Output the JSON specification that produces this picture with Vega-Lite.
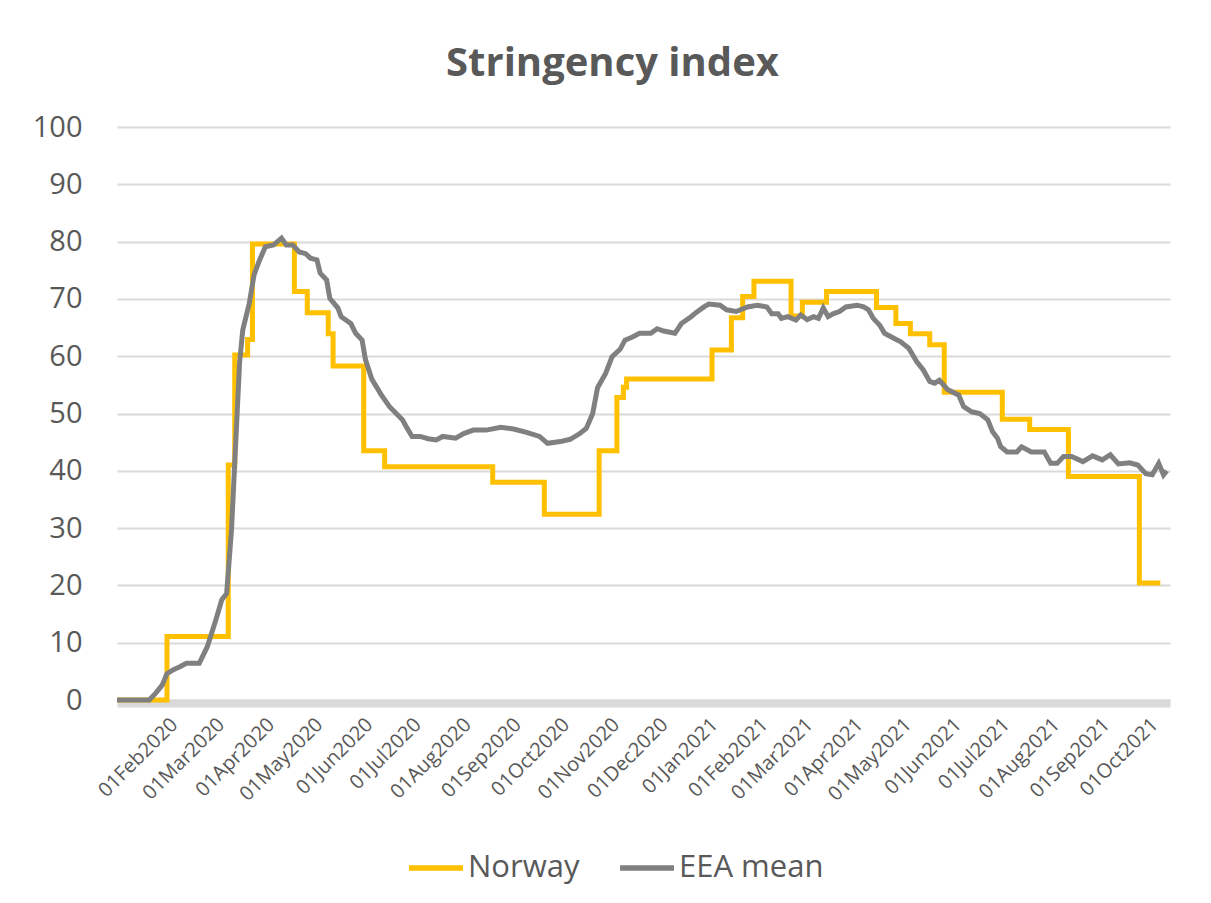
{
  "$schema": "https://vega.github.io/schema/vega-lite/v6.json",
  "width": 1053,
  "height": 573,
  "autosize": {"type": "none"},
  "padding": {"left": 117, "top": 127, "right": 41, "bottom": 203},
  "background": "white",
  "title": {
    "text": "Stringency index",
    "font": "Open Sans",
    "fontSize": 40,
    "fontWeight": "bold",
    "color": "#595959",
    "anchor": "middle",
    "dx": -31,
    "offset": 29
  },
  "datasets": {
    "norway": [
      {"date": "2020-01-01", "value": 0, "series": "Norway"},
      {"date": "2020-02-01", "value": 11.1, "series": "Norway"},
      {"date": "2020-03-10", "value": 41, "series": "Norway"},
      {"date": "2020-03-14", "value": 60.2, "series": "Norway"},
      {"date": "2020-03-22", "value": 62.9, "series": "Norway"},
      {"date": "2020-03-25", "value": 79.6, "series": "Norway"},
      {"date": "2020-04-20", "value": 71.3, "series": "Norway"},
      {"date": "2020-04-28", "value": 67.6, "series": "Norway"},
      {"date": "2020-05-11", "value": 63.9, "series": "Norway"},
      {"date": "2020-05-14", "value": 58.3, "series": "Norway"},
      {"date": "2020-06-02", "value": 43.5, "series": "Norway"},
      {"date": "2020-06-15", "value": 40.7, "series": "Norway"},
      {"date": "2020-08-21", "value": 38, "series": "Norway"},
      {"date": "2020-09-22", "value": 32.4, "series": "Norway"},
      {"date": "2020-10-26", "value": 43.5, "series": "Norway"},
      {"date": "2020-11-06", "value": 52.8, "series": "Norway"},
      {"date": "2020-11-10", "value": 54.6, "series": "Norway"},
      {"date": "2020-11-12", "value": 56, "series": "Norway"},
      {"date": "2021-01-04", "value": 61.1, "series": "Norway"},
      {"date": "2021-01-16", "value": 66.7, "series": "Norway"},
      {"date": "2021-01-23", "value": 70.4, "series": "Norway"},
      {"date": "2021-01-30", "value": 73.1, "series": "Norway"},
      {"date": "2021-02-22", "value": 67, "series": "Norway"},
      {"date": "2021-03-01", "value": 69.4, "series": "Norway"},
      {"date": "2021-03-16", "value": 71.3, "series": "Norway"},
      {"date": "2021-04-16", "value": 68.5, "series": "Norway"},
      {"date": "2021-04-28", "value": 65.7, "series": "Norway"},
      {"date": "2021-05-07", "value": 63.9, "series": "Norway"},
      {"date": "2021-05-19", "value": 62, "series": "Norway"},
      {"date": "2021-05-28", "value": 53.7, "series": "Norway"},
      {"date": "2021-07-03", "value": 49, "series": "Norway"},
      {"date": "2021-07-20", "value": 47.2, "series": "Norway"},
      {"date": "2021-08-13", "value": 39, "series": "Norway"},
      {"date": "2021-09-26", "value": 20.4, "series": "Norway"},
      {"date": "2021-10-09", "value": 20.4, "series": "Norway"}
    ],
    "eea": [
      {"date": "2020-01-01", "value": 0, "series": "EEA mean"},
      {"date": "2020-01-21", "value": 0, "series": "EEA mean"},
      {"date": "2020-01-25", "value": 1.2, "series": "EEA mean"},
      {"date": "2020-01-29", "value": 2.6, "series": "EEA mean"},
      {"date": "2020-02-01", "value": 4.6, "series": "EEA mean"},
      {"date": "2020-02-05", "value": 5.3, "series": "EEA mean"},
      {"date": "2020-02-09", "value": 5.8, "series": "EEA mean"},
      {"date": "2020-02-13", "value": 6.4, "series": "EEA mean"},
      {"date": "2020-02-21", "value": 6.4, "series": "EEA mean"},
      {"date": "2020-02-26", "value": 9.3, "series": "EEA mean"},
      {"date": "2020-03-02", "value": 13.7, "series": "EEA mean"},
      {"date": "2020-03-06", "value": 17.5, "series": "EEA mean"},
      {"date": "2020-03-09", "value": 18.6, "series": "EEA mean"},
      {"date": "2020-03-12", "value": 29.7, "series": "EEA mean"},
      {"date": "2020-03-14", "value": 41.3, "series": "EEA mean"},
      {"date": "2020-03-17", "value": 58.8, "series": "EEA mean"},
      {"date": "2020-03-19", "value": 64.6, "series": "EEA mean"},
      {"date": "2020-03-23", "value": 69.2, "series": "EEA mean"},
      {"date": "2020-03-26", "value": 74.2, "series": "EEA mean"},
      {"date": "2020-03-29", "value": 76.5, "series": "EEA mean"},
      {"date": "2020-04-02", "value": 79.1, "series": "EEA mean"},
      {"date": "2020-04-07", "value": 79.4, "series": "EEA mean"},
      {"date": "2020-04-12", "value": 80.6, "series": "EEA mean"},
      {"date": "2020-04-15", "value": 79.4, "series": "EEA mean"},
      {"date": "2020-04-19", "value": 79.4, "series": "EEA mean"},
      {"date": "2020-04-23", "value": 78.2, "series": "EEA mean"},
      {"date": "2020-04-27", "value": 77.9, "series": "EEA mean"},
      {"date": "2020-04-30", "value": 77.1, "series": "EEA mean"},
      {"date": "2020-05-04", "value": 76.8, "series": "EEA mean"},
      {"date": "2020-05-06", "value": 74.5, "series": "EEA mean"},
      {"date": "2020-05-10", "value": 73.3, "series": "EEA mean"},
      {"date": "2020-05-12", "value": 70.1, "series": "EEA mean"},
      {"date": "2020-05-17", "value": 68.4, "series": "EEA mean"},
      {"date": "2020-05-19", "value": 66.9, "series": "EEA mean"},
      {"date": "2020-05-25", "value": 65.7, "series": "EEA mean"},
      {"date": "2020-05-28", "value": 64, "series": "EEA mean"},
      {"date": "2020-06-01", "value": 62.8, "series": "EEA mean"},
      {"date": "2020-06-03", "value": 59.5, "series": "EEA mean"},
      {"date": "2020-06-07", "value": 56, "series": "EEA mean"},
      {"date": "2020-06-13", "value": 53.2, "series": "EEA mean"},
      {"date": "2020-06-18", "value": 51.2, "series": "EEA mean"},
      {"date": "2020-06-26", "value": 48.9, "series": "EEA mean"},
      {"date": "2020-06-29", "value": 47.4, "series": "EEA mean"},
      {"date": "2020-07-02", "value": 46, "series": "EEA mean"},
      {"date": "2020-07-07", "value": 46, "series": "EEA mean"},
      {"date": "2020-07-12", "value": 45.6, "series": "EEA mean"},
      {"date": "2020-07-17", "value": 45.4, "series": "EEA mean"},
      {"date": "2020-07-21", "value": 46, "series": "EEA mean"},
      {"date": "2020-07-29", "value": 45.7, "series": "EEA mean"},
      {"date": "2020-08-03", "value": 46.5, "series": "EEA mean"},
      {"date": "2020-08-09", "value": 47.1, "series": "EEA mean"},
      {"date": "2020-08-17", "value": 47.1, "series": "EEA mean"},
      {"date": "2020-08-26", "value": 47.6, "series": "EEA mean"},
      {"date": "2020-09-03", "value": 47.3, "series": "EEA mean"},
      {"date": "2020-09-11", "value": 46.7, "series": "EEA mean"},
      {"date": "2020-09-19", "value": 46, "series": "EEA mean"},
      {"date": "2020-09-24", "value": 44.8, "series": "EEA mean"},
      {"date": "2020-10-02", "value": 45.1, "series": "EEA mean"},
      {"date": "2020-10-08", "value": 45.5, "series": "EEA mean"},
      {"date": "2020-10-14", "value": 46.5, "series": "EEA mean"},
      {"date": "2020-10-18", "value": 47.4, "series": "EEA mean"},
      {"date": "2020-10-22", "value": 50, "series": "EEA mean"},
      {"date": "2020-10-25", "value": 54.5, "series": "EEA mean"},
      {"date": "2020-10-30", "value": 57, "series": "EEA mean"},
      {"date": "2020-11-03", "value": 59.9, "series": "EEA mean"},
      {"date": "2020-11-08", "value": 61.2, "series": "EEA mean"},
      {"date": "2020-11-11", "value": 62.8, "series": "EEA mean"},
      {"date": "2020-11-16", "value": 63.4, "series": "EEA mean"},
      {"date": "2020-11-20", "value": 64, "series": "EEA mean"},
      {"date": "2020-11-27", "value": 64, "series": "EEA mean"},
      {"date": "2020-12-01", "value": 64.8, "series": "EEA mean"},
      {"date": "2020-12-05", "value": 64.4, "series": "EEA mean"},
      {"date": "2020-12-12", "value": 64, "series": "EEA mean"},
      {"date": "2020-12-16", "value": 65.7, "series": "EEA mean"},
      {"date": "2020-12-22", "value": 66.9, "series": "EEA mean"},
      {"date": "2020-12-25", "value": 67.6, "series": "EEA mean"},
      {"date": "2020-12-30", "value": 68.6, "series": "EEA mean"},
      {"date": "2021-01-02", "value": 69.1, "series": "EEA mean"},
      {"date": "2021-01-09", "value": 68.9, "series": "EEA mean"},
      {"date": "2021-01-13", "value": 68.1, "series": "EEA mean"},
      {"date": "2021-01-19", "value": 67.8, "series": "EEA mean"},
      {"date": "2021-01-26", "value": 68.6, "series": "EEA mean"},
      {"date": "2021-02-01", "value": 68.9, "series": "EEA mean"},
      {"date": "2021-02-07", "value": 68.6, "series": "EEA mean"},
      {"date": "2021-02-10", "value": 67.4, "series": "EEA mean"},
      {"date": "2021-02-14", "value": 67.4, "series": "EEA mean"},
      {"date": "2021-02-16", "value": 66.6, "series": "EEA mean"},
      {"date": "2021-02-20", "value": 66.9, "series": "EEA mean"},
      {"date": "2021-02-25", "value": 66.3, "series": "EEA mean"},
      {"date": "2021-02-28", "value": 67.2, "series": "EEA mean"},
      {"date": "2021-03-04", "value": 66.4, "series": "EEA mean"},
      {"date": "2021-03-08", "value": 66.9, "series": "EEA mean"},
      {"date": "2021-03-11", "value": 66.6, "series": "EEA mean"},
      {"date": "2021-03-14", "value": 68.4, "series": "EEA mean"},
      {"date": "2021-03-17", "value": 66.9, "series": "EEA mean"},
      {"date": "2021-03-20", "value": 67.4, "series": "EEA mean"},
      {"date": "2021-03-24", "value": 67.8, "series": "EEA mean"},
      {"date": "2021-03-28", "value": 68.6, "series": "EEA mean"},
      {"date": "2021-04-04", "value": 68.9, "series": "EEA mean"},
      {"date": "2021-04-08", "value": 68.6, "series": "EEA mean"},
      {"date": "2021-04-11", "value": 68.1, "series": "EEA mean"},
      {"date": "2021-04-14", "value": 66.6, "series": "EEA mean"},
      {"date": "2021-04-18", "value": 65.4, "series": "EEA mean"},
      {"date": "2021-04-21", "value": 64, "series": "EEA mean"},
      {"date": "2021-04-27", "value": 63.1, "series": "EEA mean"},
      {"date": "2021-05-01", "value": 62.5, "series": "EEA mean"},
      {"date": "2021-05-06", "value": 61.4, "series": "EEA mean"},
      {"date": "2021-05-11", "value": 59, "series": "EEA mean"},
      {"date": "2021-05-15", "value": 57.6, "series": "EEA mean"},
      {"date": "2021-05-19", "value": 55.6, "series": "EEA mean"},
      {"date": "2021-05-22", "value": 55.3, "series": "EEA mean"},
      {"date": "2021-05-25", "value": 55.8, "series": "EEA mean"},
      {"date": "2021-05-30", "value": 54.2, "series": "EEA mean"},
      {"date": "2021-06-06", "value": 53.2, "series": "EEA mean"},
      {"date": "2021-06-09", "value": 51.2, "series": "EEA mean"},
      {"date": "2021-06-14", "value": 50.3, "series": "EEA mean"},
      {"date": "2021-06-19", "value": 50, "series": "EEA mean"},
      {"date": "2021-06-24", "value": 48.9, "series": "EEA mean"},
      {"date": "2021-06-27", "value": 46.8, "series": "EEA mean"},
      {"date": "2021-06-30", "value": 45.7, "series": "EEA mean"},
      {"date": "2021-07-02", "value": 44.2, "series": "EEA mean"},
      {"date": "2021-07-06", "value": 43.3, "series": "EEA mean"},
      {"date": "2021-07-12", "value": 43.3, "series": "EEA mean"},
      {"date": "2021-07-15", "value": 44.2, "series": "EEA mean"},
      {"date": "2021-07-21", "value": 43.3, "series": "EEA mean"},
      {"date": "2021-07-29", "value": 43.3, "series": "EEA mean"},
      {"date": "2021-08-02", "value": 41.3, "series": "EEA mean"},
      {"date": "2021-08-06", "value": 41.3, "series": "EEA mean"},
      {"date": "2021-08-10", "value": 42.5, "series": "EEA mean"},
      {"date": "2021-08-15", "value": 42.5, "series": "EEA mean"},
      {"date": "2021-08-22", "value": 41.6, "series": "EEA mean"},
      {"date": "2021-08-28", "value": 42.6, "series": "EEA mean"},
      {"date": "2021-09-03", "value": 41.9, "series": "EEA mean"},
      {"date": "2021-09-08", "value": 42.8, "series": "EEA mean"},
      {"date": "2021-09-13", "value": 41.2, "series": "EEA mean"},
      {"date": "2021-09-20", "value": 41.4, "series": "EEA mean"},
      {"date": "2021-09-25", "value": 41, "series": "EEA mean"},
      {"date": "2021-09-30", "value": 39.5, "series": "EEA mean"},
      {"date": "2021-10-04", "value": 39.3, "series": "EEA mean"},
      {"date": "2021-10-08", "value": 41.3, "series": "EEA mean"},
      {"date": "2021-10-11", "value": 39.3, "series": "EEA mean"},
      {"date": "2021-10-13", "value": 40, "series": "EEA mean"}
    ]
  },
  "encoding": {
    "x": {
      "field": "date",
      "type": "temporal",
      "scale": {
        "type": "utc",
        "domain": [
          {"year": 2020, "month": 1, "date": 1, "utc": true},
          {"year": 2021, "month": 10, "date": 15, "utc": true}
        ]
      },
      "axis": {
        "title": null,
        "format": "%d%b%Y",
        "values": [
          {"year": 2020, "month": 2, "date": 1, "utc": true},
          {"year": 2020, "month": 3, "date": 1, "utc": true},
          {"year": 2020, "month": 4, "date": 1, "utc": true},
          {"year": 2020, "month": 5, "date": 1, "utc": true},
          {"year": 2020, "month": 6, "date": 1, "utc": true},
          {"year": 2020, "month": 7, "date": 1, "utc": true},
          {"year": 2020, "month": 8, "date": 1, "utc": true},
          {"year": 2020, "month": 9, "date": 1, "utc": true},
          {"year": 2020, "month": 10, "date": 1, "utc": true},
          {"year": 2020, "month": 11, "date": 1, "utc": true},
          {"year": 2020, "month": 12, "date": 1, "utc": true},
          {"year": 2021, "month": 1, "date": 1, "utc": true},
          {"year": 2021, "month": 2, "date": 1, "utc": true},
          {"year": 2021, "month": 3, "date": 1, "utc": true},
          {"year": 2021, "month": 4, "date": 1, "utc": true},
          {"year": 2021, "month": 5, "date": 1, "utc": true},
          {"year": 2021, "month": 6, "date": 1, "utc": true},
          {"year": 2021, "month": 7, "date": 1, "utc": true},
          {"year": 2021, "month": 8, "date": 1, "utc": true},
          {"year": 2021, "month": 9, "date": 1, "utc": true},
          {"year": 2021, "month": 10, "date": 1, "utc": true}
        ],
        "labelAngle": -45,
        "labelFont": "Open Sans",
        "labelFontSize": 20,
        "labelColor": "#595959",
        "labelPadding": 11,
        "labelDx": 5,
        "labelOverlap": false,
        "ticks": false,
        "tickSize": 0,
        "grid": false,
        "domain": true,
        "domainColor": "#d9d9d9",
        "domainWidth": 8,
        "offset": 3
      }
    },
    "y": {
      "field": "value",
      "type": "quantitative",
      "scale": {"domain": [0, 100], "nice": false, "zero": true},
      "axis": {
        "title": null,
        "values": [0, 10, 20, 30, 40, 50, 60, 70, 80, 90, 100],
        "labelFont": "Open Sans",
        "labelFontSize": 29,
        "labelColor": "#595959",
        "labelPadding": 35,
        "ticks": false,
        "tickSize": 0,
        "domain": false,
        "grid": true,
        "gridColor": "#d9d9d9",
        "gridWidth": 2
      }
    },
    "color": {
      "field": "series",
      "type": "nominal",
      "scale": {"domain": ["Norway", "EEA mean"], "range": ["#FFC000", "#808080"]},
      "legend": {
        "title": null,
        "orient": "none",
        "direction": "horizontal",
        "legendX": 289,
        "legendY": 711,
        "symbolType": "stroke",
        "symbolSize": 2916,
        "symbolStrokeWidth": 5.5,
        "labelFont": "Open Sans",
        "labelFontSize": 31,
        "labelColor": "#595959",
        "labelOffset": 2,
        "columnPadding": 29
      }
    }
  },
  "layer": [
    {
      "data": {"name": "norway"},
      "mark": {"type": "line", "interpolate": "step-after", "strokeWidth": 5}
    },
    {
      "data": {"name": "eea"},
      "mark": {"type": "line", "interpolate": "linear", "strokeWidth": 5}
    }
  ],
  "config": {
    "view": {"stroke": null},
    "font": "Open Sans"
  }
}
